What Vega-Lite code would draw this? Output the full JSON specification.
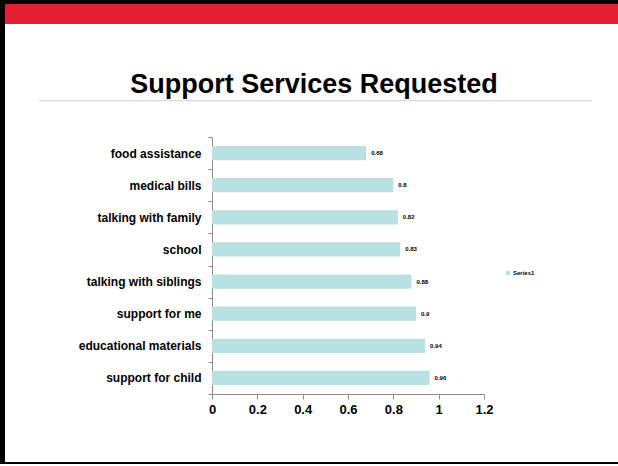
{
  "$schema": "https://vega.github.io/schema/vega-lite/v6.json",
  "padding": 0,
  "background": "white",
  "spacing": 0,
  "config": {
    "view": {"stroke": null},
    "font": "Liberation Sans",
    "concat": {"spacing": 0}
  },
  "vconcat": [
    {
      "width": 618,
      "height": 4,
      "data": {"values": [{"part": "top border"}]},
      "mark": {"type": "rect", "color": "black"},
      "encoding": {}
    },
    {
      "spacing": 0,
      "hconcat": [
        {
          "width": 5,
          "height": 458,
          "data": {"values": [{"part": "left border"}]},
          "mark": {"type": "rect", "color": "black"},
          "encoding": {}
        },
        {
          "spacing": 2,
          "vconcat": [
            {
              "width": 613,
              "height": 20,
              "data": {"values": [{"part": "red band"}]},
              "mark": {"type": "rect", "color": "#e41f33"},
              "encoding": {},
              "title": {
                "text": "Support Services Requested",
                "orient": "bottom",
                "anchor": "middle",
                "offset": 48,
                "dx": 2.5,
                "fontSize": 27,
                "fontWeight": "bold",
                "font": "Liberation Sans",
                "color": "black"
              }
            },
            {
              "spacing": 0,
              "hconcat": [
                {
                  "width": 34,
                  "height": 29,
                  "data": {"values": [{"part": "spacer"}]},
                  "mark": {"type": "rect", "opacity": 0},
                  "encoding": {}
                },
                {
                  "width": 553,
                  "height": 1.2,
                  "data": {"values": [{"part": "title rule"}]},
                  "mark": {"type": "rect", "color": "#d9d9d9"},
                  "encoding": {}
                }
              ]
            },
            {
              "spacing": 0,
              "hconcat": [
                {
                  "width": 1,
                  "height": 1,
                  "data": {"values": [{"part": "spacer"}]},
                  "mark": {"type": "rect", "opacity": 0},
                  "encoding": {}
                },
                {
                  "width": 272,
                  "height": 257,
                  "data": {
                    "values": [
                      {"service": "food assistance", "share": 0.68, "series": "Series1"},
                      {"service": "medical bills", "share": 0.8, "series": "Series1"},
                      {"service": "talking with family", "share": 0.82, "series": "Series1"},
                      {"service": "school", "share": 0.83, "series": "Series1"},
                      {"service": "talking with siblings", "share": 0.88, "series": "Series1"},
                      {"service": "support for me", "share": 0.9, "series": "Series1"},
                      {"service": "educational materials", "share": 0.94, "series": "Series1"},
                      {"service": "support for child", "share": 0.96, "series": "Series1"}
                    ]
                  },
                  "encoding": {
                    "y": {
                      "field": "service",
                      "type": "nominal",
                      "sort": null,
                      "scale": {"paddingInner": 0, "paddingOuter": 0},
                      "axis": {
                        "title": null,
                        "labelFontSize": 12,
                        "labelFontWeight": "bold",
                        "labelColor": "black",
                        "labelPadding": 7,
                        "tickBand": "extent",
                        "tickSize": 4,
                        "tickColor": "#8c8c8c",
                        "domainColor": "#8c8c8c",
                        "minExtent": 206,
                        "maxExtent": 206
                      }
                    },
                    "x": {
                      "field": "share",
                      "type": "quantitative",
                      "scale": {"domain": [0, 1.2], "nice": false},
                      "axis": {
                        "title": null,
                        "grid": false,
                        "values": [0, 0.2, 0.4, 0.6, 0.8, 1, 1.2],
                        "format": "~g",
                        "labelFontSize": 13,
                        "labelFontWeight": "bold",
                        "labelColor": "black",
                        "labelFlush": false,
                        "labelPadding": 4,
                        "tickSize": 5,
                        "tickColor": "#8c8c8c",
                        "domainColor": "#8c8c8c",
                        "minExtent": 67,
                        "maxExtent": 67
                      }
                    }
                  },
                  "layer": [
                    {
                      "mark": {"type": "bar", "height": {"band": 0.44}},
                      "encoding": {
                        "color": {
                          "field": "series",
                          "type": "nominal",
                          "scale": {"range": ["#b9e0e3"]},
                          "legend": {
                            "orient": "none",
                            "legendX": 505,
                            "legendY": 270,
                            "title": null,
                            "symbolType": "square",
                            "symbolSize": 16,
                            "symbolStrokeWidth": 0,
                            "labelFontSize": 6,
                            "labelFontWeight": "bold",
                            "labelColor": "black",
                            "labelOffset": 2,
                            "padding": 0
                          }
                        }
                      }
                    },
                    {
                      "mark": {"type": "text", "align": "left", "baseline": "middle", "dx": 5, "fontSize": 6, "fontWeight": "bold", "color": "black"},
                      "encoding": {
                        "text": {"field": "share", "type": "quantitative", "format": "~g"}
                      }
                    }
                  ]
                }
              ]
            }
          ]
        }
      ]
    },
    {
      "width": 618,
      "height": 2,
      "data": {"values": [{"part": "bottom border"}]},
      "mark": {"type": "rect", "color": "black"},
      "encoding": {}
    }
  ]
}
